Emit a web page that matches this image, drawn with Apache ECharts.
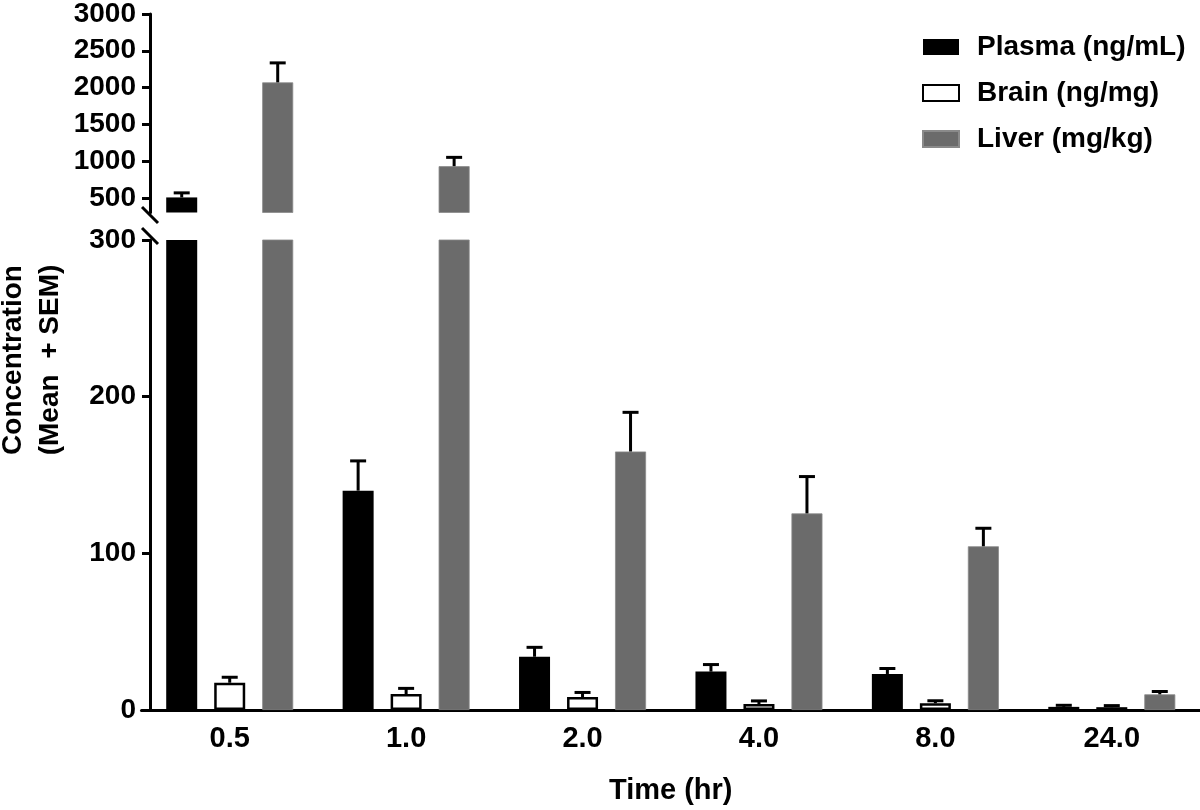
<!DOCTYPE html>
<html>
<head>
<meta charset="utf-8">
<script src="https://cdn.jsdelivr.net/npm/echarts@6/dist/echarts.min.js"></script>
<style>
html,body{margin:0;padding:0;background:#fff;}
#chart{width:1200px;height:810px;}
</style>
</head>
<body>
<div id="chart"></div>
<script>
// ---- data ----
const categories = ['0.5', '1.0', '2.0', '4.0', '8.0', '24.0'];
const seriesNames = ['Plasma (ng/mL)', 'Brain (ng/mg)', 'Liver (mg/kg)'];
const plasmaMean = [505, 140, 34, 24.5, 23, 2];
const plasmaSem  = [62, 19, 6, 4.5, 3.5, 1];
const brainMean  = [17.4, 10.2, 8.3, 3.8, 4.3, 1.8];
const brainSem   = [3.5, 3.6, 2.9, 2.0, 1.6, 1.0];
const liverMean  = [2070, 930, 165, 125.5, 104.5, 10];
const liverSem   = [265, 120, 25, 23.5, 11.5, 1.8];
const lowerTicks = [0, 100, 200, 300];
const upperTicks = [500, 1000, 1500, 2000, 2500, 3000];
const breakValue = 300;
const upperMax = 3000;

// ---- styles ----
const FONT = '"Liberation Sans", Arial, sans-serif';
const BAR_W = 31, BAR_GAP = 17;
const means = [plasmaMean, brainMean, liverMean];
const sems = [plasmaSem, brainSem, liverSem];
const barStyles = [
  { color: '#000000', borderColor: '#000000', borderWidth: 0 },
  { color: '#ffffff', borderColor: '#000000', borderWidth: 2.5 },
  { color: '#6b6b6b', borderColor: '#8a8a8a', borderWidth: 0.8 }
];

const chart = echarts.init(document.getElementById('chart'), null, { renderer: 'canvas' });

function errRender(params, api) {
  const cat = api.value(0), m = api.value(1), s = api.value(2), si = api.value(3);
  const off = (si - 1) * (BAR_W + BAR_GAP);
  const p0 = api.coord([cat, m]);
  const p1 = api.coord([cat, m + s]);
  const x = p0[0] + off;
  const st = { stroke: '#000', lineWidth: 3 };
  return {
    type: 'group',
    children: [
      { type: 'line', shape: { x1: x, y1: p0[1], x2: x, y2: p1[1] }, style: st },
      { type: 'line', shape: { x1: x - 8, y1: p1[1], x2: x + 8, y2: p1[1] }, style: st }
    ]
  };
}

function errData(upper) {
  const out = [];
  for (let si = 0; si < 3; si++) {
    for (let i = 0; i < categories.length; i++) {
      const m = means[si][i];
      if ((m > breakValue) === upper) out.push([i, m, sems[si][i], si]);
    }
  }
  return out;
}

const series = [];
for (let si = 0; si < 3; si++) {
  series.push({
    name: seriesNames[si], type: 'bar', xAxisIndex: 0, yAxisIndex: 0,
    barWidth: BAR_W, barGap: (BAR_GAP / BAR_W * 100) + '%', clip: true,
    itemStyle: barStyles[si], data: means[si]
  });
}
for (let si = 0; si < 3; si++) {
  series.push({
    name: seriesNames[si], type: 'bar', xAxisIndex: 1, yAxisIndex: 1,
    barWidth: BAR_W, barGap: (BAR_GAP / BAR_W * 100) + '%', clip: true,
    itemStyle: barStyles[si], data: means[si].map(v => v > breakValue ? v : null)
  });
}
series.push({ type: 'custom', xAxisIndex: 0, yAxisIndex: 0, renderItem: errRender, data: errData(false), z: 5, clip: false });
series.push({ type: 'custom', xAxisIndex: 1, yAxisIndex: 1, renderItem: errRender, data: errData(true), z: 5, clip: false });

const axisLineStyle = { color: '#000', width: 3 };
const tickLabel = { color: '#000', fontFamily: FONT, fontWeight: 'bold', fontSize: 28, margin: 14, formatter: v => String(v) };

const option = {
  animation: false,
  backgroundColor: '#ffffff',
  grid: [
    { left: 141.5, width: 1062, top: 240, height: 470 },
    { left: 141.5, width: 1062, top: 11, height: 201.5 }
  ],
  legend: {
    orient: 'vertical', left: 917, top: 28,
    itemWidth: 36, itemHeight: 16, itemGap: 18,
    icon: 'rect',
    selectedMode: false,
    data: seriesNames,
    textStyle: { color: '#000', fontFamily: FONT, fontWeight: 'bold', fontSize: 28, lineHeight: 28, padding: [0, 0, 0, 13] }
  },
  xAxis: [
    {
      type: 'category', gridIndex: 0, data: categories,
      axisLine: { lineStyle: axisLineStyle },
      axisTick: { alignWithLabel: true, length: 8, lineStyle: { color: '#000', width: 3 } },
      axisLabel: { color: '#000', fontFamily: FONT, fontWeight: 'bold', fontSize: 29, margin: 14 },
      name: 'Time (hr)', nameLocation: 'middle', nameGap: 66,
      nameTextStyle: { color: '#000', fontFamily: FONT, fontWeight: 'bold', fontSize: 29 }
    },
    { type: 'category', gridIndex: 1, data: categories, show: false }
  ],
  yAxis: [
    {
      type: 'value', gridIndex: 0, min: 0, max: breakValue, interval: 100, offset: -8.5,
      axisLine: { show: true, lineStyle: axisLineStyle },
      axisTick: { show: true, length: 8, lineStyle: { color: '#000', width: 3 } },
      axisLabel: Object.assign({}, tickLabel, { customValues: lowerTicks }),
      splitLine: { show: false }
    },
    {
      type: 'value', gridIndex: 1, min: breakValue, max: upperMax, offset: -8.5,
      axisLine: { show: true, lineStyle: axisLineStyle },
      axisTick: { show: true, length: 8, lineStyle: { color: '#000', width: 3 }, customValues: upperTicks },
      axisLabel: Object.assign({}, tickLabel, { customValues: upperTicks }),
      splitLine: { show: false }
    }
  ],
  graphic: [
    { type: 'line', shape: { x1: 142, y1: 207, x2: 158, y2: 223 }, style: { stroke: '#000', lineWidth: 3 } },
    { type: 'line', shape: { x1: 142, y1: 228, x2: 158, y2: 244 }, style: { stroke: '#000', lineWidth: 3 } },
    {
      type: 'text', x: 32, y: 360, rotation: Math.PI / 2,
      style: {
        text: 'Concentration\n(Mean  + SEM)', fill: '#000',
        font: 'bold 28px ' + FONT, align: 'center', verticalAlign: 'middle', lineHeight: 37
      }
    }
  ],
  series: series
};
chart.setOption(option);
</script>
</body>
</html>
